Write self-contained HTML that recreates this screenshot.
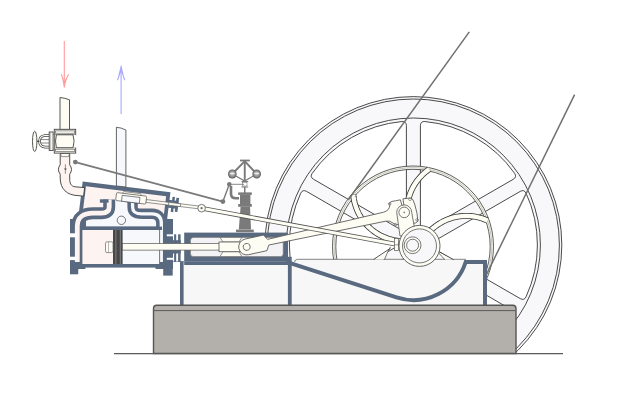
<!DOCTYPE html>
<html><head><meta charset="utf-8"><style>html,body{margin:0;padding:0;background:#fff;width:630px;height:410px;overflow:hidden;font-family:"Liberation Sans",sans-serif}svg{display:block}</style></head>
<body><svg width="630" height="410" viewBox="0 0 630 410"><defs><clipPath id="gclip"><rect x="0" y="0" width="630" height="353.5"/></clipPath><radialGradient id="ball" cx="0.5" cy="0.48" r="0.55"><stop offset="0" stop-color="#c8c8c8"/><stop offset="0.6" stop-color="#8e8e8e"/><stop offset="1" stop-color="#4a4a4a"/></radialGradient></defs>
<g clip-path="url(#gclip)"><circle cx="413.40" cy="245.00" r="148.4" fill="#f8f8fa" stroke="#353535" stroke-width="0.9"/><circle cx="413.40" cy="245.00" r="146.0" fill="none" stroke="#353535" stroke-width="0.9"/><circle cx="413.40" cy="245.00" r="127.0" fill="none" stroke="#353535" stroke-width="0.9"/><path d="M420.40,232.88 L513.22,179.29 Q517.12,177.04 514.58,173.32 A124.0 124.0 0 0 0 424.89,121.53 Q420.40,121.20 420.40,125.70 Z" fill="#ffffff" stroke="#353535" stroke-width="0.9"/><path d="M406.40,232.88 L406.40,125.70 Q406.40,121.20 401.91,121.53 A124.0 124.0 0 0 0 312.22,173.32 Q309.68,177.04 313.58,179.29 Z" fill="#ffffff" stroke="#353535" stroke-width="0.9"/><path d="M399.40,245.00 L306.58,191.41 Q302.68,189.16 300.73,193.21 A124.0 124.0 0 0 0 300.73,296.79 Q302.68,300.84 306.58,298.59 Z" fill="#ffffff" stroke="#353535" stroke-width="0.9"/><path d="M406.40,257.12 L313.58,310.71 Q309.68,312.96 312.22,316.68 A124.0 124.0 0 0 0 401.91,368.47 Q406.40,368.80 406.40,364.30 Z" fill="#ffffff" stroke="#353535" stroke-width="0.9"/><path d="M420.40,257.12 L420.40,364.30 Q420.40,368.80 424.89,368.47 A124.0 124.0 0 0 0 514.58,316.68 Q517.12,312.96 513.22,310.71 Z" fill="#ffffff" stroke="#353535" stroke-width="0.9"/><path d="M427.40,245.00 L520.22,298.59 Q524.12,300.84 526.07,296.79 A124.0 124.0 0 0 0 526.07,193.21 Q524.12,189.16 520.22,191.41 Z" fill="#ffffff" stroke="#353535" stroke-width="0.9"/></g>
<circle cx="413.00" cy="246.50" r="78.85" fill="none" stroke="#fefdf4" stroke-width="3.3"/>
<circle cx="413.00" cy="246.50" r="80.5" fill="none" stroke="#353535" stroke-width="0.8"/>
<circle cx="413.00" cy="246.50" r="77.2" fill="none" stroke="#353535" stroke-width="0.8"/>
<circle cx="413.00" cy="246.50" r="78.85" fill="none" stroke="#8a8a86" stroke-width="0.5"/>
<path d="M424.31,237.86 L425.51,236.20 L426.77,234.60 L428.09,233.05 L429.48,231.55 L430.92,230.11 L432.42,228.73 L433.98,227.41 L435.58,226.15 L437.24,224.96 L438.94,223.83 L440.68,222.78 L442.47,221.79 L444.29,220.88 L446.15,220.04 L448.04,219.27 L449.96,218.59 L451.91,217.97 L453.88,217.44 L455.87,216.99 L457.87,216.61 L459.89,216.32 L461.92,216.11 L463.96,215.98 L466.00,215.93 L468.04,215.96 L470.07,216.07 L472.10,216.27 L474.12,216.54 L476.13,216.90 L478.12,217.34 L480.10,217.85 L482.05,218.45 L483.98,219.12 L485.87,219.87 L487.74,220.69" fill="none" stroke="#353535" stroke-width="6.0" stroke-linejoin="round"/>
<path d="M424.31,237.86 L425.51,236.20 L426.77,234.60 L428.09,233.05 L429.48,231.55 L430.92,230.11 L432.42,228.73 L433.98,227.41 L435.58,226.15 L437.24,224.96 L438.94,223.83 L440.68,222.78 L442.47,221.79 L444.29,220.88 L446.15,220.04 L448.04,219.27 L449.96,218.59 L451.91,217.97 L453.88,217.44 L455.87,216.99 L457.87,216.61 L459.89,216.32 L461.92,216.11 L463.96,215.98 L466.00,215.93 L468.04,215.96 L470.07,216.07 L472.10,216.27 L474.12,216.54 L476.13,216.90 L478.12,217.34 L480.10,217.85 L482.05,218.45 L483.98,219.12 L485.87,219.87 L487.74,220.69" fill="none" stroke="#fefdf4" stroke-width="4.4" stroke-linejoin="round"/>
<path d="M411.42,232.35 L410.62,230.48 L409.89,228.57 L409.24,226.64 L408.67,224.68 L408.18,222.70 L407.77,220.70 L407.44,218.69 L407.19,216.66 L407.02,214.63 L406.93,212.59 L406.92,210.55 L407.00,208.51 L407.16,206.48 L407.39,204.45 L407.71,202.44 L408.11,200.44 L408.59,198.46 L409.15,196.49 L409.78,194.55 L410.49,192.64 L411.28,190.76 L412.15,188.91 L413.08,187.10 L414.09,185.33 L415.17,183.60 L416.31,181.91 L417.53,180.27 L418.80,178.68 L420.14,177.14 L421.54,175.66 L423.00,174.23 L424.52,172.86 L426.09,171.56 L427.70,170.32 L429.37,169.14" fill="none" stroke="#353535" stroke-width="6.0" stroke-linejoin="round"/>
<path d="M411.42,232.35 L410.62,230.48 L409.89,228.57 L409.24,226.64 L408.67,224.68 L408.18,222.70 L407.77,220.70 L407.44,218.69 L407.19,216.66 L407.02,214.63 L406.93,212.59 L406.92,210.55 L407.00,208.51 L407.16,206.48 L407.39,204.45 L407.71,202.44 L408.11,200.44 L408.59,198.46 L409.15,196.49 L409.78,194.55 L410.49,192.64 L411.28,190.76 L412.15,188.91 L413.08,187.10 L414.09,185.33 L415.17,183.60 L416.31,181.91 L417.53,180.27 L418.80,178.68 L420.14,177.14 L421.54,175.66 L423.00,174.23 L424.52,172.86 L426.09,171.56 L427.70,170.32 L429.37,169.14" fill="none" stroke="#fefdf4" stroke-width="4.4" stroke-linejoin="round"/>
<path d="M399.86,241.03 L397.83,240.82 L395.81,240.53 L393.81,240.16 L391.82,239.70 L389.85,239.17 L387.90,238.57 L385.98,237.88 L384.09,237.12 L382.23,236.28 L380.40,235.37 L378.61,234.39 L376.87,233.33 L375.16,232.21 L373.51,231.02 L371.90,229.76 L370.34,228.45 L368.84,227.07 L367.39,225.63 L366.01,224.13 L364.68,222.58 L363.42,220.98 L362.22,219.33 L361.09,217.63 L360.03,215.89 L359.03,214.11 L358.11,212.29 L357.27,210.43 L356.50,208.54 L355.80,206.63 L355.18,204.68 L354.64,202.71 L354.18,200.73 L353.80,198.72 L353.50,196.71 L353.28,194.68" fill="none" stroke="#353535" stroke-width="6.0" stroke-linejoin="round"/>
<path d="M399.86,241.03 L397.83,240.82 L395.81,240.53 L393.81,240.16 L391.82,239.70 L389.85,239.17 L387.90,238.57 L385.98,237.88 L384.09,237.12 L382.23,236.28 L380.40,235.37 L378.61,234.39 L376.87,233.33 L375.16,232.21 L373.51,231.02 L371.90,229.76 L370.34,228.45 L368.84,227.07 L367.39,225.63 L366.01,224.13 L364.68,222.58 L363.42,220.98 L362.22,219.33 L361.09,217.63 L360.03,215.89 L359.03,214.11 L358.11,212.29 L357.27,210.43 L356.50,208.54 L355.80,206.63 L355.18,204.68 L354.64,202.71 L354.18,200.73 L353.80,198.72 L353.50,196.71 L353.28,194.68" fill="none" stroke="#fefdf4" stroke-width="4.4" stroke-linejoin="round"/>
<rect x="181" y="259.5" width="306" height="46" fill="#f7f7f7"/>
<path d="M294.5,262 Q295,259.3 297.5,259.3 L466,259.3" fill="none" stroke="#777" stroke-width="0.9"/>
<path d="M291.00,263.30 L396.51,297.34 A55.0 55.0 0 0 0 465.71,262.00 L485,262 L485,306" fill="none" stroke="#596a80" stroke-width="4" stroke-linejoin="miter"/>
<rect x="180" y="261" width="3.6" height="45" fill="#596a80"/>
<rect x="287.9" y="256.8" width="3.8" height="49" fill="#596a80"/><rect x="285" y="261" width="6.7" height="4" fill="#596a80"/>
<path d="M153.5,353.5 L153.5,308.5 Q153.5,305.3 156.7,305.3 L512.8,305.3 Q516,305.3 516,308.5 L516,353.5 Z" fill="#b3afaa" stroke="#555" stroke-width="1.4"/>
<line x1="154" y1="310.6" x2="515.5" y2="310.6" stroke="#505050" stroke-width="0.9"/>
<line x1="114" y1="353.6" x2="563" y2="353.6" stroke="#5a5a5a" stroke-width="1.4"/>
<rect x="184.2" y="232.6" width="103.8" height="32.4" fill="#596a80"/>
<rect x="190.5" y="237.4" width="92.7" height="19.2" rx="3" fill="#f3f3f5" stroke="#777" stroke-width="0.6"/>
<line x1="172" y1="261.5" x2="286" y2="261.5" stroke="#7b8aa0" stroke-width="0.7"/>
<g transform="rotate(7.0 82.7 181.5)"><rect x="82.7" y="181.5" width="88.4" height="40" fill="#596a80"/></g>
<rect x="70" y="219" width="103" height="50" fill="#596a80"/>
<rect x="70" y="219" width="8.5" height="55.3" fill="#596a80"/>
<rect x="163.2" y="219" width="9.5" height="56.6" fill="#596a80"/>
<rect x="85.4" y="267.6" width="70.1" height="10" fill="#ffffff"/>
<rect x="78.5" y="269.6" width="6.9" height="9" fill="#ffffff"/>
<g transform="rotate(7.0 82.7 181.5)"><rect x="86.5" y="185.9" width="80.8" height="30" fill="#fdf3f0"/></g>
<rect x="86" y="212" width="74" height="14.6" fill="#f6f8fc"/>
<rect x="111" y="199" width="19" height="14" fill="#f6f8fc"/>
<path d="M109.2,199.5 L109.2,207 C109.2,211.5 106.5,213.2 101.5,213.2 L93,213.2 C83.5,213.2 77.3,217.5 77.3,226 L77.3,262" fill="none" stroke="#596a80" stroke-width="12"/>
<path d="M109.2,199.5 L109.2,207 C109.2,211.5 106.5,213.2 101.5,213.2 L93,213.2 C83.5,213.2 77.3,217.5 77.3,226 L77.3,262" fill="none" stroke="#fdf3f0" stroke-width="4.8"/>
<rect x="99.9" y="199.3" width="8.7" height="3.4" fill="#596a80"/>
<path d="M132.6,199.5 L132.6,207 C132.6,212 135,213.8 142,213.8 L152,213.8 C158,213.8 161.3,217 161.3,223 L161.3,262" fill="none" stroke="#596a80" stroke-width="10.4"/>
<path d="M132.6,199.5 L132.6,207 C132.6,212 135,213.8 142,213.8 L152,213.8 C158,213.8 161.3,217 161.3,223 L161.3,262" fill="none" stroke="#f6f8fc" stroke-width="3.3"/>
<rect x="82" y="226.6" width="80" height="3.4" fill="#596a80"/>
<rect x="82" y="230" width="31" height="34" fill="#fdf3f0"/>
<rect x="122.4" y="230" width="37.1" height="34" fill="#f6f8fc"/>
<line x1="82" y1="230" x2="82" y2="264" stroke="#666" stroke-width="0.8"/>
<line x1="159.6" y1="230" x2="159.6" y2="264" stroke="#666" stroke-width="0.8"/>
<rect x="69" y="233.3" width="7.8" height="4" fill="#fff"/>
<rect x="69" y="256.7" width="7.8" height="3.4" fill="#fff"/>
<circle cx="121.4" cy="220.3" r="4.2" fill="#f6f8fc" stroke="#555" stroke-width="0.8"/>
<rect x="113" y="230" width="9.4" height="34" fill="#474747"/>
<line x1="115.9" y1="230" x2="115.9" y2="264" stroke="#9a9a9a" stroke-width="0.7"/>
<line x1="120.3" y1="230" x2="120.3" y2="264" stroke="#9a9a9a" stroke-width="0.7"/>
<rect x="105.5" y="241.8" width="7.5" height="10.8" rx="1.5" fill="#fefdf4" stroke="#666" stroke-width="0.7"/>
<line x1="108.5" y1="242" x2="108.5" y2="252.4" stroke="#888" stroke-width="0.6"/>
<rect x="166.8" y="234.3" width="7.3" height="2" fill="#fff"/>
<rect x="166.8" y="257.8" width="7.3" height="2" fill="#fff"/>
<rect x="172.7" y="240.2" width="8" height="3.4" fill="#596a80"/>
<rect x="174.1" y="234.3" width="2.1" height="9.699999999999989" fill="#596a80"/>
<rect x="178.1" y="234.3" width="2.5" height="9.699999999999989" fill="#596a80"/>
<rect x="172.7" y="250.1" width="8" height="3.4" fill="#596a80"/>
<rect x="174.1" y="250" width="2.1" height="12" fill="#596a80"/>
<rect x="178.1" y="250" width="2.5" height="12" fill="#596a80"/>
<g transform="rotate(7.0 82.7 181.5)"><rect x="147.7" y="191.7" width="59" height="2.8" fill="#fefdf4" stroke="#555" stroke-width="0.6"/><rect x="124.1" y="186.5" width="18.2" height="2.4" rx="1" fill="#fefdf4" stroke="#555" stroke-width="0.6"/><rect x="117.7" y="188.3" width="30.3" height="8.0" rx="1.2" fill="#fefdf4" stroke="#555" stroke-width="0.7"/><rect x="123.6" y="190.4" width="17.9" height="5.9" fill="#f6f8fc" stroke="#555" stroke-width="0.7"/><rect x="169.7" y="189.1" width="10.6" height="2.4" fill="#596a80"/><rect x="169.7" y="194.7" width="10.6" height="2.4" fill="#596a80"/><rect x="173.7" y="185.7" width="2.5" height="15.2" fill="#596a80"/><rect x="177.7" y="186.1" width="2.7" height="14.2" fill="#596a80"/><rect x="170.7" y="191.7" width="12" height="2.8" fill="#fefdf4" stroke="#555" stroke-width="0.6"/></g>
<path d="M60,129.5 L60,97.5 Q65,98 69.5,99.8 L69.5,129.5 Z" fill="#fefdf4" stroke="#444" stroke-width="0.9"/>
<path d="M116.4,186 L116.4,127.3 Q121,127.5 125.9,130 L125.9,187 Z" fill="#f6f8fc" stroke="#555" stroke-width="0.9"/>
<path d="M60.2,153.5 L60.2,164.7 Q56.6,169.5 60.2,174.2 L60.2,178 C60.2,189 67,195.3 78,195.6 L83.6,196.2 L84.6,187.6 L75,186.8 C71,186.4 69.7,183 69.7,179 L69.7,174.2 Q73.3,169.5 69.7,164.7 L69.7,153.5 Z" fill="#fdf3f0" stroke="#3a3a3a" stroke-width="0.9"/>
<path d="M60.4,153.5 L61.6,156.6 L68.4,156.6 L69.5,153.5 Z" fill="#fefdf4" stroke="#555" stroke-width="0.6"/>
<line x1="65.4" y1="164.3" x2="65.4" y2="173.8" stroke="#666" stroke-width="0.7"/>
<circle cx="65.4" cy="169" r="1.1" fill="#666"/>
<rect x="54.25" y="129.3" width="21.45" height="5.5" fill="#fefdf4" stroke="#444" stroke-width="0.9"/>
<rect x="55.3" y="130.9" width="19.4" height="2.3" fill="#fefdf4" stroke="#555" stroke-width="0.6"/>
<rect x="54.25" y="147.7" width="21.45" height="5.4" fill="#fefdf4" stroke="#444" stroke-width="0.9"/>
<rect x="55.3" y="149.2" width="19.4" height="2.4" fill="#fefdf4" stroke="#555" stroke-width="0.6"/>
<rect x="54.25" y="134.8" width="21.45" height="12.9" fill="#fff"/>
<path d="M56.4,134.8 Q54.6,141.2 56.4,147.7 L73,147.7 Q75.2,141.2 73,134.8 Z" fill="#fefdf4" stroke="#444" stroke-width="0.9"/>
<line x1="54.6" y1="134.8" x2="54.6" y2="147.7" stroke="#444" stroke-width="0.8"/>
<path d="M49.2,135.5 L45,135.5 Q39.5,136 39.5,141.3 Q39.5,146.6 45,147.1 L49.2,147.1" fill="none" stroke="#444" stroke-width="2.6"/>
<path d="M49.2,135.5 L45,135.5 Q39.5,136 39.5,141.3 Q39.5,146.6 45,147.1 L49.2,147.1" fill="none" stroke="#fefdf4" stroke-width="1.1"/>
<line x1="41" y1="139.6" x2="49.2" y2="139.6" stroke="#555" stroke-width="0.7"/>
<line x1="41" y1="143" x2="49.2" y2="143" stroke="#555" stroke-width="0.7"/>
<rect x="49.2" y="132" width="3.9" height="18.4" fill="#fefdf4" stroke="#444" stroke-width="0.9"/>
<line x1="50.6" y1="132.6" x2="50.6" y2="149.8" stroke="#888" stroke-width="0.5"/>
<ellipse cx="34.7" cy="141.4" rx="2.2" ry="10.2" fill="#fefdf4" stroke="#444" stroke-width="0.9"/>
<line x1="36.9" y1="141.3" x2="39.5" y2="141.3" stroke="#444" stroke-width="1.2"/>
<line x1="75.3" y1="162.1" x2="222.9" y2="201.6" stroke="#7a7a7a" stroke-width="1.7"/>
<circle cx="75.3" cy="162.1" r="2.4" fill="#7a7a7a"/>
<circle cx="222.9" cy="201.6" r="2.4" fill="#7a7a7a"/>
<line x1="222.9" y1="201.6" x2="229.3" y2="184.3" stroke="#7a7a7a" stroke-width="1.4"/>
<circle cx="229.3" cy="184.3" r="2.3" fill="#7a7a7a"/>
<line x1="229.3" y1="184.3" x2="244" y2="184.3" stroke="#7a7a7a" stroke-width="0.9"/>
<path d="M231,186 L231,194 Q231,198.3 236,198.3 L239,198.3" fill="none" stroke="#7a7a7a" stroke-width="2.6"/>
<rect x="240" y="159.6" width="9.8" height="1.8" fill="#7a7a7a"/>
<rect x="243.8" y="161" width="1.9" height="20.5" fill="#7a7a7a"/>
<path d="M244.7,161.2 L232.3,174 M244.7,161.2 L256.7,174" fill="none" stroke="#7a7a7a" stroke-width="1.9"/>
<path d="M232.3,174 L244.7,181 L256.7,174" fill="none" stroke="#7a7a7a" stroke-width="1.2"/>
<ellipse cx="232.3" cy="174" rx="4.3" ry="4.5" fill="url(#ball)"/>
<ellipse cx="232.3" cy="173.4" rx="2.6" ry="0.9" fill="#f2f2f2" opacity="0.9"/>
<ellipse cx="256.7" cy="174" rx="4.3" ry="4.5" fill="url(#ball)"/>
<ellipse cx="256.7" cy="173.4" rx="2.6" ry="0.9" fill="#f2f2f2" opacity="0.9"/>
<rect x="241.5" y="181" width="6.7" height="1" fill="#7a7a7a"/>
<rect x="241.5" y="186.5" width="6.7" height="1" fill="#7a7a7a"/>
<rect x="242.5" y="182.5" width="4.5" height="3.5" fill="none" stroke="#7a7a7a" stroke-width="0.6"/>
<rect x="244" y="187" width="1.5" height="6" fill="#7a7a7a"/>
<rect x="238.2" y="192.4" width="13.6" height="2.5" fill="#7a7a7a"/>
<rect x="240" y="194.9" width="10.4" height="9.1" fill="#7a7a7a"/>
<rect x="238.2" y="204" width="13.6" height="2.8" fill="#7a7a7a"/>
<path d="M240.6,206.8 L250,206.8 L251,229.6 L238.8,229.6 Z" fill="#7a7a7a"/>
<rect x="236" y="229.6" width="17.8" height="2.6" fill="#7a7a7a"/>
<rect x="122.4" y="243.5" width="126" height="6.6" fill="#fefdf4" stroke="#555" stroke-width="0.7"/>
<path d="M220,237.4 L241.9,237.4 L239,242 L222.9,242 Z" fill="#fefdf4" stroke="#666" stroke-width="0.7"/>
<path d="M222.9,251.7 L239,251.7 L241.9,256.6 L220,256.6 Z" fill="#fefdf4" stroke="#666" stroke-width="0.7"/>
<rect x="219" y="242" width="22" height="9.7" fill="#fefdf4" stroke="#555" stroke-width="0.8"/>
<g transform="translate(246.7 246.9) rotate(-12.355)"><path d="M0,-8 L19,-8 L21,-4.5 L22,-2.9 L141.2,-4.6 Q147.2,-5 148.7,-10 L149.2,-12.6 Q151.2,-13.8 155.2,-13.2 L160.2,-13.1 L160.6,-6.5 L162.5,-6.5 L162.9,-13.5 L170.2,-12.8 Q173.2,-12 173.2,-6 Q174.2,4 172.7,11.6 Q170.2,13.5 166.2,12.5 L150.2,10.3 Q148.2,8 145.2,5.5 L141.2,4.6 L22,2.9 L21,4.5 L19,8 L0,8 A8 8 0 0 1 0,-8 Z" fill="#fefdf4" stroke="#555" stroke-width="0.8" stroke-linejoin="round"/><circle cx="0" cy="0" r="3.4" fill="#fefdf4" stroke="#555" stroke-width="0.8"/><circle cx="148.8" cy="-11.5" r="1.3" fill="none" stroke="#666" stroke-width="0.6"/><circle cx="169.7" cy="-11.5" r="1.3" fill="none" stroke="#666" stroke-width="0.6"/><circle cx="150.0" cy="10" r="1.3" fill="none" stroke="#666" stroke-width="0.6"/><circle cx="172.2" cy="10" r="1.3" fill="none" stroke="#666" stroke-width="0.6"/></g>
<line x1="201.6" y1="208.2" x2="396" y2="244.3" stroke="#555" stroke-width="4.6"/>
<line x1="201.6" y1="208.2" x2="396" y2="244.3" stroke="#fefdf4" stroke-width="3.0"/>
<circle cx="201.6" cy="208.2" r="3.8" fill="#fefdf4" stroke="#555" stroke-width="0.8"/>
<circle cx="201.6" cy="208.2" r="1.1" fill="#666"/>
<path d="M396.7,212.4 A7.5 7.5 0 0 1 411.7,212.4 L416,236 L400,236 Z" fill="#fefdf4" stroke="#555" stroke-width="0.8"/>
<circle cx="404.2" cy="212.4" r="5.3" fill="#fefdf4" stroke="#555" stroke-width="0.8"/>
<circle cx="404.2" cy="212.4" r="0.8" fill="#777"/>
<path d="M390.5,246.8 Q386.5,254 383.5,259.6 L373.8,259.6 Z" fill="#fefdf4" stroke="none"/><path d="M390.5,246.8 Q386.5,254 384.5,259.6" fill="none" stroke="#555" stroke-width="0.8"/><line x1="373.8" y1="259.3" x2="390.5" y2="248.2" stroke="#444" stroke-width="0.9"/><path d="M437,251 Q441.5,256.5 445,259.6 L453.5,259.6 Z" fill="#fefdf4" stroke="none"/><path d="M437,251 Q441.5,256.5 445,259.6" fill="none" stroke="#555" stroke-width="0.8"/><line x1="438.5" y1="251.3" x2="453.5" y2="259.6" stroke="#444" stroke-width="0.9"/><rect x="394.4" y="238.5" width="4" height="11.9" fill="#fefdf4" stroke="#555" stroke-width="0.7"/><line x1="394.4" y1="244.8" x2="398.4" y2="244.8" stroke="#555" stroke-width="0.6"/>
<circle cx="419.5" cy="245.9" r="20.5" fill="#fefdf4" stroke="#555" stroke-width="0.9"/>
<circle cx="419.5" cy="245.9" r="17" fill="#f8f8fa" stroke="#555" stroke-width="0.8"/>
<circle cx="412.6" cy="245.2" r="8.4" fill="#fefdf4" stroke="#555" stroke-width="0.8"/>
<circle cx="412.6" cy="245.2" r="6" fill="#f8f8fa" stroke="#555" stroke-width="0.8"/>
<line x1="469.3" y1="31.9" x2="348.3" y2="199.8" stroke="#707070" stroke-width="1.5"/>
<line x1="574.6" y1="94.6" x2="486.5" y2="274.5" stroke="#707070" stroke-width="1.5"/>
<path d="M64.3,41 L64.3,86 M61.4,74.2 Q63.6,79.5 64.3,87.4 Q65.3,79.5 68.7,74.2 M62.9,78.8 L64.3,86.5 L65.9,78.8" fill="none" stroke="#ff9d9d" stroke-width="1.1"/>
<path d="M121.1,113.9 L121.1,67.5 M117.4,80.2 Q119.9,75 121.1,66.1 Q122.6,75 124.8,80.2 M118.8,75.6 L121.1,67 L123.3,75.6" fill="none" stroke="#a9a9ff" stroke-width="1.1"/></svg></body></html>
